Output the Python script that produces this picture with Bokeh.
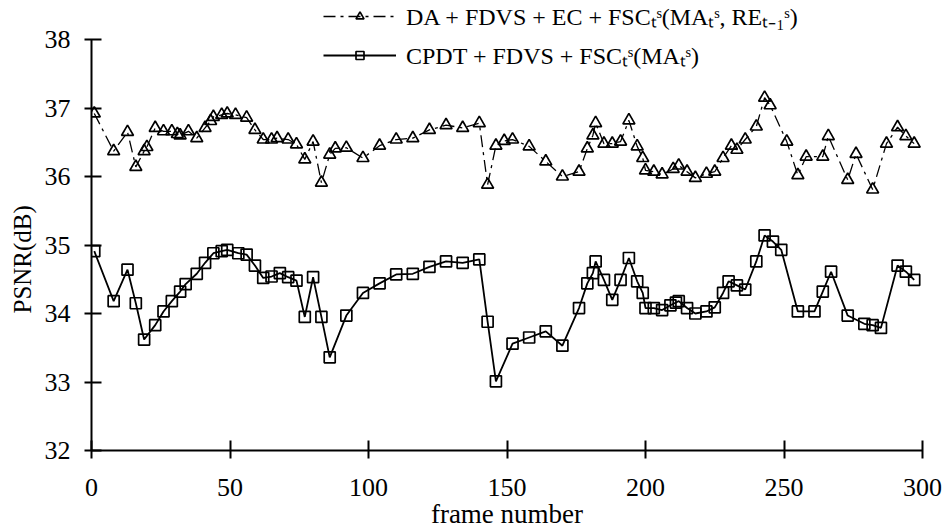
from bokeh.plotting import figure
from bokeh.models import Legend, LegendItem, Range1d, FixedTicker, Title
from bokeh.embed import file_html
from bokeh.resources import INLINE

# ---- data ----
frames_a = [1, 8, 13, 16, 19, 20, 23, 26, 29, 31, 32, 35, 38, 41, 43, 44, 47, 49, 52, 56,
            59, 62, 65, 67, 71, 74, 77, 80, 83, 86, 88, 92, 98, 104, 110, 116, 122, 128, 134, 140,
            143, 146, 149, 152, 158, 164, 170, 176, 179, 181, 182, 185, 188, 191, 194, 197, 199, 200, 203, 206,
            210, 212, 215, 218, 222, 225, 228, 231, 233, 236, 240, 243, 245, 251, 255, 258, 264, 266, 273, 276,
            282, 287, 291, 294, 297]
psnr_a = [36.92, 36.37, 36.65, 36.14, 36.37, 36.43, 36.71, 36.66, 36.66, 36.62, 36.60, 36.66, 36.56, 36.71, 36.81, 36.87, 36.90, 36.92, 36.90, 36.86,
          36.68, 36.54, 36.54, 36.56, 36.54, 36.47, 36.25, 36.51, 35.91, 36.32, 36.41, 36.42, 36.27, 36.45, 36.54, 36.56, 36.68, 36.75, 36.71, 36.78,
          35.88, 36.45, 36.52, 36.54, 36.44, 36.22, 36.00, 36.07, 36.41, 36.60, 36.78, 36.48, 36.48, 36.51, 36.82, 36.44, 36.27, 36.09, 36.07, 36.03,
          36.11, 36.16, 36.07, 35.98, 36.04, 36.07, 36.27, 36.45, 36.39, 36.54, 36.73, 37.15, 37.04, 36.51, 36.02, 36.29, 36.29, 36.59, 35.95, 36.33,
          35.81, 36.48, 36.72, 36.59, 36.48]

frames_b = [1, 8, 13, 16, 19, 23, 26, 29, 32, 34, 38, 41, 44, 47, 49, 53, 56, 59, 62, 65,
            68, 71, 74, 77, 80, 83, 86, 92, 98, 104, 110, 116, 122, 128, 134, 140, 143, 146, 152, 158,
            164, 170, 176, 179, 181, 182, 185, 188, 191, 194, 197, 199, 200, 203, 206, 209, 211, 212, 215, 218,
            222, 225, 228, 230, 233, 236, 240, 243, 246, 249, 255, 261, 264, 267, 273, 279, 282, 285, 291, 294,
            297]
psnr_b = [34.91, 34.18, 34.64, 34.15, 33.62, 33.83, 34.03, 34.18, 34.32, 34.43, 34.58, 34.74, 34.88, 34.91, 34.93, 34.88, 34.86, 34.70, 34.52, 34.54,
          34.59, 34.53, 34.48, 33.95, 34.53, 33.95, 33.36, 33.97, 34.30, 34.44, 34.57, 34.58, 34.68, 34.76, 34.74, 34.79, 33.88, 33.01, 33.56, 33.65,
          33.74, 33.53, 34.08, 34.44, 34.59, 34.76, 34.49, 34.20, 34.49, 34.81, 34.47, 34.30, 34.08, 34.08, 34.05, 34.12, 34.16, 34.18, 34.08, 34.00,
          34.03, 34.09, 34.30, 34.47, 34.41, 34.35, 34.76, 35.14, 35.05, 34.93, 34.03, 34.03, 34.32, 34.61, 33.97, 33.85, 33.83, 33.79, 34.70, 34.61,
          34.49]

label_a = "DA + FDVS + EC + FSCₜˢ(MAₜˢ, REₜ₋₁ˢ)"
label_b = "CPDT + FDVS + FSCₜˢ(MAₜˢ)"
x_ticks = [0, 50, 100, 150, 200, 250, 300]
y_ticks = [32, 33, 34, 35, 36, 37, 38]
x_title = "frame number"
y_title = "PSNR(dB)"

FONT = "Liberation Serif"

# y range reaches a little above 38 so the legend (above the 38 line) is not clipped;
# the axis itself is bounded to 32..38
y_top = 38 + 39 / 68.46

p = figure(width=944, height=531, x_range=Range1d(0, 300), y_range=Range1d(32, y_top),
           output_backend="svg", toolbar_location=None,
           min_border_left=90, min_border_right=22, min_border_top=0, min_border_bottom=81)
p.outline_line_color = None
p.grid.visible = False
p.background_fill_color = "white"
p.border_fill_color = "white"

la = p.line(frames_a, psnr_a, line_color="black", line_width=1.3, line_dash="12 5 3 5")
sa = p.scatter(frames_a, psnr_a, marker="triangle", size=12, line_color="black",
               line_width=1.7, fill_color=None)
lb = p.line(frames_b, psnr_b, line_color="black", line_width=1.8)
sb = p.scatter(frames_b, psnr_b, marker="square", size=11, line_color="black",
               line_width=1.7, fill_color=None)

for ax in (p.xaxis[0], p.yaxis[0]):
    ax.axis_line_width = 2
    ax.major_tick_line_width = 2
    ax.minor_tick_line_color = None
    ax.major_label_text_font = FONT
    ax.major_label_text_font_size = "26px"
    ax.major_label_text_color = "black"
    ax.axis_label_text_font = FONT
    ax.axis_label_text_font_size = "27px"
    ax.axis_label_text_font_style = "normal"
    ax.axis_label_text_color = "black"

p.xaxis.ticker = FixedTicker(ticks=x_ticks)
p.yaxis.ticker = FixedTicker(ticks=y_ticks)
p.yaxis.bounds = (32, 38)
p.xaxis.major_tick_in = 10
p.xaxis.major_tick_out = 8
p.xaxis.major_label_standoff = 20
p.xaxis.axis_label = x_title
p.xaxis.axis_label_standoff = 0
p.yaxis.major_tick_in = 10
p.yaxis.major_tick_out = 7
p.yaxis.major_label_standoff = 14

# y-axis title drawn as a left-side title so it can sit where the reference has it
ytitle = Title(text=y_title, align="left", offset=137, standoff=12,
               text_font=FONT, text_font_size="25px", text_font_style="normal",
               text_color="black")
p.add_layout(ytitle, "left")

legend = Legend(items=[LegendItem(label=label_a, renderers=[la, sa]),
                       LegendItem(label=label_b, renderers=[lb, sb])],
                location=(232, 379), orientation="vertical",
                glyph_width=73, glyph_height=20, label_height=20, spacing=6,
                label_standoff=10, padding=0, margin=0,
                border_line_color=None, background_fill_alpha=0,
                label_text_font=FONT, label_text_font_size="24px", label_text_color="black")
p.add_layout(legend, "center")

open("out.html", "w").write(file_html(p, INLINE))
